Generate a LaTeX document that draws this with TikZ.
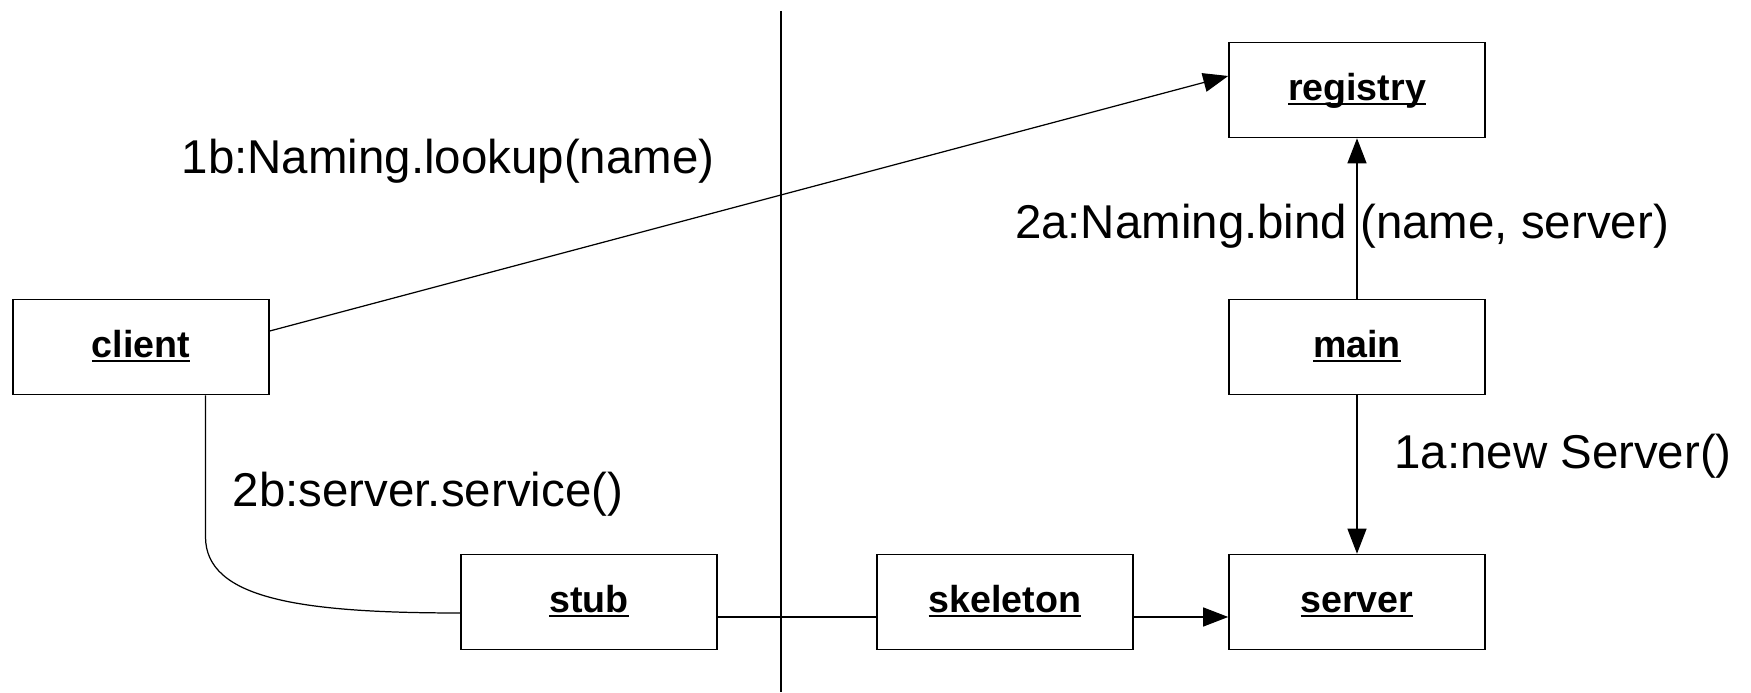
\documentclass[tikz,border=0pt]{standalone}
\usepackage{fontspec}
\setmainfont{Liberation Sans}
\usetikzlibrary{arrows.meta}
% unterstrichener Objektname (Linie durch die Unterlaengen)
\newcommand{\objname}[1]{\setbox0\hbox{#1}\rlap{\rule[-1.45pt]{\wd0}{0.6pt}}\box0}
\begin{document}
\begin{tikzpicture}[
        >={Triangle[length=0.25cm, width=0.19cm]},
        font=\fontsize{13.5}{16}\selectfont,
        % Objekt-Kaesten
        objbox/.style={draw=black, fill=white, line width=0.45pt, rectangle, minimum height=0.95cm, minimum width=2.56cm, text height=9pt, text depth=3.2pt, align=center, font=\fontsize{10.7}{13}\selectfont\bfseries},
        call/.style={->, line width=0.35pt, draw=black},
        link/.style={line width=0.35pt, draw=black}
    ]
    \useasboundingbox (0,0) rectangle (17.51,6.93);

    % ==========================================
    % 1. TRENNLINIE UND OBJEKTE
    % ==========================================

    % Trennlinie Client / Server
    \coordinate (septop) at (7.81,6.82);
    \coordinate (sepbot) at (7.81,0.01);
    \draw[link] (septop) -- (sepbot);

    % Client-Seite (links)
    \node[objbox] (client) at (1.41, 3.46) {\objname{client}};
    \node[objbox] (stub)   at (5.89, 0.91) {\objname{stub}};

    % Server-Seite (rechts)
    \node[objbox] (registry) at (13.57, 6.03) {\objname{registry}};
    \node[objbox] (main)     at (13.57, 3.46) {\objname{main}};
    \node[objbox] (skeleton) at (10.05, 0.91) {\objname{skeleton}};
    \node[objbox] (server)   at (13.57, 0.91) {\objname{server}};


    % ==========================================
    % 2. NACHRICHTEN
    % ==========================================

    \draw[call] ([yshift=0.16cm]client.east) -- ([yshift=0.14cm]registry.west) node[pos=0.186, yshift=1.22cm] {1b:Naming.lookup(name)};

    \draw[call] (main.north) -- (registry.south) node[midway, xshift=-0.15cm, yshift=-0.08cm] {2a:Naming.bind (name, server)};
    \draw[call] (main.south) -- (server.north) node[pos=0.385, right=0.25cm] {1a:new Server()};

    % --- Aufruf ueber Stub und Skeleton ---
    \draw[link] ([xshift=0.645cm]client.south) -- ++(0,-1.415) node[pos=0.7, right=0.15cm] {2b:server.service()}
        .. controls ++(0,-0.62) and ([xshift=-1.6cm, yshift=-0.11cm]stub.west) .. ([yshift=-0.11cm]stub.west);
    \draw[link] ([yshift=-0.15cm]stub.east) -- ([yshift=-0.15cm]skeleton.west);
    \draw[call] ([yshift=-0.15cm]skeleton.east) -- ([yshift=-0.15cm]server.west);

\end{tikzpicture}
\end{document}
